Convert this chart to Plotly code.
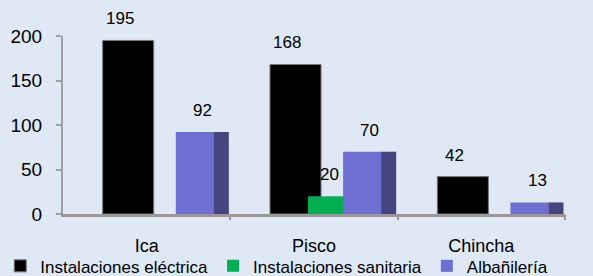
import plotly.graph_objects as go

categories = ["Ica", "Pisco", "Chincha"]
electricas = [195, 168, 42]
sanitarias = [0, 20, 0]
albanileria = [92, 70, 13]
series_names = ["Instalaciones eléctrica", "Instalaciones sanitaria", "Albañilería"]
y_ticks = [0, 50, 100, 150, 200]

BG = "#dee9f5"
FONT = "Liberation Sans, Arial, sans-serif"

idx = list(range(len(categories)))
boundaries = [i + 0.5 for i in idx]

fig = go.Figure()
# black bars
fig.add_trace(go.Bar(x=idx, y=electricas, name=series_names[0],
                     marker=dict(color="#000000", line=dict(color="#777777", width=1)),
                     width=0.305, offset=-0.263))
# green bars
fig.add_trace(go.Bar(x=idx, y=sanitarias, name=series_names[1],
                     marker=dict(color="#00b050", line=dict(width=0)),
                     width=0.222, offset=-0.036))
# purple front face
fig.add_trace(go.Bar(x=idx, y=albanileria, name=series_names[2],
                     marker=dict(color="#6f6fd3", line=dict(width=0)),
                     width=0.228, offset=0.174))
# purple side face (3D effect)
fig.add_trace(go.Bar(x=idx, y=albanileria, name=series_names[2], showlegend=False,
                     marker=dict(color="#45457f", line=dict(width=0)),
                     width=0.09, offset=0.401))

# data labels
label_specs = [(electricas, -0.263 + 0.305 / 2 - 0.05),
               (sanitarias, -0.036 + 0.222 / 2 + 0.02),
               (albanileria, 0.174 + 0.318 / 2)]
for vals, off in label_specs:
    for i, v in enumerate(vals):
        if v:
            fig.add_annotation(x=i + off, y=v, text=str(v), showarrow=False,
                               yanchor="bottom", yshift=10,
                               font=dict(family=FONT, size=17, color="#000000"))

fig.update_layout(
    width=593, height=276,
    margin=dict(l=63, r=28, t=36, b=62, pad=0, autoexpand=False),
    paper_bgcolor=BG, plot_bgcolor=BG,
    barmode="overlay",
    showlegend=True,
    legend=dict(orientation="h", xref="paper", yref="paper",
                x=-0.125, y=-0.395, xanchor="left", yanchor="bottom",
                font=dict(family=FONT, size=17, color="#000000"),
                bgcolor="rgba(0,0,0,0)", itemwidth=30, tracegroupgap=0,
                borderwidth=0),
    font=dict(family=FONT, color="#000000"),
    xaxis=dict(
        tickmode="array", tickvals=idx, ticktext=categories,
        range=[-0.5, 2.5],
        showline=True, linecolor="#999999", linewidth=3,
        ticks="",
        tickfont=dict(family=FONT, size=18, color="#000000"),
        ticklabelstandoff=13,
        showgrid=False, zeroline=False,
    ),
    xaxis2=dict(overlaying="x", anchor="y", side="bottom", range=[-0.5, 2.5],
                tickmode="array", tickvals=boundaries, showticklabels=False,
                ticks="outside", tickcolor="#999999", ticklen=5, tickwidth=2,
                showline=False, showgrid=False, zeroline=False),
    yaxis=dict(
        range=[0, 200], tickvals=y_ticks,
        showline=True, linecolor="#a0a0a0", linewidth=2,
        ticks="outside", tickcolor="#a0a0a0", ticklen=5, tickwidth=2,
        tickfont=dict(family=FONT, size=19, color="#000000"),
        ticklabelstandoff=10,
        showgrid=False, zeroline=False,
    ),
)
# invisible trace to activate the boundary-tick axis
fig.add_trace(go.Scatter(x=[boundaries[0]], y=[0], xaxis="x2", mode="markers",
                         marker=dict(opacity=0), showlegend=False, hoverinfo="skip"))

fig.write_html("out.html", config={"displayModeBar": False},
               post_script="document.body.style.margin='0';")
